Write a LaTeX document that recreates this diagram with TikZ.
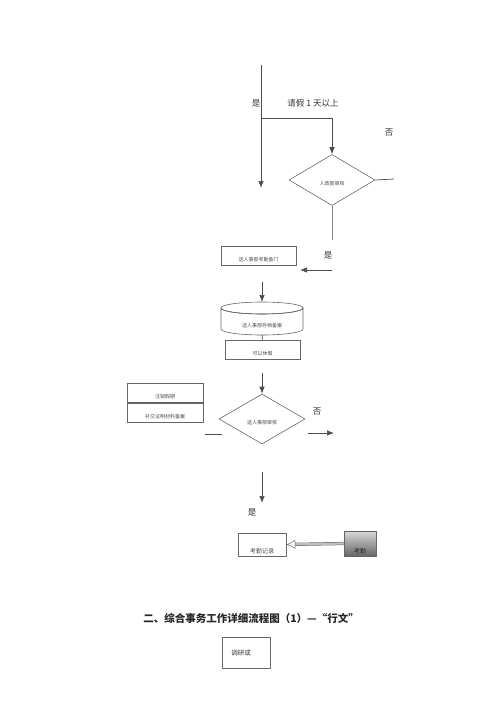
\documentclass[tikz,border=0pt]{standalone}
\usepackage{fontspec}
\newfontfamily\cjk{Noto Sans CJK SC}
\usetikzlibrary{arrows.meta}
\usetikzlibrary{shapes.geometric}
\tikzset{
	flow/.style={draw=black!70, line width=0.7pt},
	arr/.style={flow, -{Latex[length=7pt,width=5.5pt]}},
	procbox/.style={draw=black!60, line width=0.6pt, rectangle, inner sep=0pt},
	decide/.style={draw=black!60, line width=0.6pt, diamond, aspect=1.7, inner sep=0pt},
	tiny text/.style={font=\cjk\fontsize{5}{6}\selectfont, text=black!70},
	say/.style={font=\cjk\fontsize{8.5}{10}\selectfont, text=black!80},
}
\begin{document}
\begin{tikzpicture}[x=1pt,y=-1pt]
	\useasboundingbox (0,0) rectangle (500,707);
	% top part
	\coordinate (top) at (261,65);
	\coordinate (mainend) at (261,188);
	\coordinate (bend) at (261,118);
	\coordinate (turn) at (332,118);
	\draw[arr] (top) -- (mainend);
	\node[say] (yes1) at (256,103) {是};
	\node[say] (ask) at (313,103) {请假 1 天以上};
	\node[say] (no1) at (389,133) {否};
	\node[decide, minimum width=86, minimum height=51] (check) at (332,180) {};
	\node[tiny text] (checktext) at (332,184) {人政部审核};
	\draw[arr] (bend) -- (turn) -- (check.north);
	\coordinate (noend) at (394,179);
	\draw[flow] (check.east) -- (noend);
	\coordinate (downend) at (332,240);
	\draw[line width=0.7pt, black!50] (check.south) -- (downend);
	\node[say] (yes2) at (328,255) {是};
	% hand over
	\node[procbox, minimum width=75, minimum height=19] (record) at (258.5,255.5) {};
	\node[tiny text, anchor=south] (recordtext) at (record.south) {送人事部考勤备门};
	\coordinate (from) at (332,270);
	\draw[arr] (from) -- (300,270);
	\coordinate (rdown) at (262,282);
	% store (cylinder)
	\coordinate (stop) at (262,302);
	\draw[draw=black!60, line width=0.6pt]
		(221,308) -- (221,329) arc[start angle=180, end angle=0, x radius=41, y radius=6]
		-- (303,308) arc[start angle=0, end angle=360, x radius=41, y radius=6];
	\draw[draw=black!60, line width=0.6pt] (221,308) arc[start angle=180, end angle=0, x radius=41, y radius=6];
	\node[tiny text] (storetext) at (262,326) {送人事部存档备案};
	\coordinate (sbot) at (262,335);
	\draw[arr] (rdown) -- (stop);
	\node[procbox, minimum width=75, minimum height=19] (leave) at (262.5,349.5) {};
	\node[tiny text, anchor=south] (leavetext) at (leave.south) {可以休假};
	\draw[flow] (sbot) -- (leave.north);
	% second check
	\coordinate (cdown) at (262,373);
	\node[decide, minimum width=86, minimum height=50] (check2) at (262,419) {};
	\node[tiny text] (check2text) at (262,423) {送人事部审核};
	\draw[arr] (cdown) -- (check2.north);
	\node[procbox, minimum width=76, minimum height=19] (cancel) at (165,393) {};
	\node[tiny text, anchor=south] (canceltext) at (cancel.south) {注销假期};
	\node[procbox, minimum width=76, minimum height=19, anchor=north] (proof) at (cancel.south) {};
	\node[tiny text, anchor=south] (prooftext) at (proof.south) {补交证明材料备案};
	\coordinate (lstub) at (205,434);
	\coordinate (lstubend) at (222,434);
	\draw[flow] (lstub) -- (lstubend);
	\coordinate (rstub) at (308,433);
	\coordinate (rstubend) at (334,433);
	\draw[arr] (rstub) -- (rstubend);
	\node[say] (no2) at (317,412) {否};
	\coordinate (ydown) at (262,472);
	\coordinate (ydownend) at (262,503);
	\draw[arr] (ydown) -- (ydownend);
	\node[say] (yes3) at (252,512) {是};
	% attendance
	\node[procbox, minimum width=48, minimum height=23] (log) at (262,544.5) {};
	\node[tiny text, font=\cjk\fontsize{6}{7}\selectfont, anchor=south] (logtext) at ([yshift=-1pt]log.south) {考勤记录};
	\node[procbox, minimum width=32, minimum height=25, top color=black!15, bottom color=black!60] (att) at (360,543.5) {};
	\node[tiny text, font=\cjk\fontsize{6}{7}\selectfont, text=black!85, anchor=south] (atttext) at ([yshift=-1pt]att.south) {考勤};
	\draw[black!60, line width=0.5pt, double=black!25, double distance=2.2pt,
		-{Latex[open, length=9pt, width=9pt]}] (att.west) -- (log.east);
	% heading
	\node[font=\cjk\bfseries\fontsize{10.5}{12}\selectfont, text=black!85] (title) at (251,618) {二、综合事务工作详细流程图（1）—“行文”};
	\node[procbox, minimum width=48, minimum height=31] (study) at (246,652.5) {};
	\node[font=\cjk\fontsize{6.5}{8}\selectfont, text=black!80] (studytext) at (241,653) {调研或};
\end{tikzpicture}
\end{document}
